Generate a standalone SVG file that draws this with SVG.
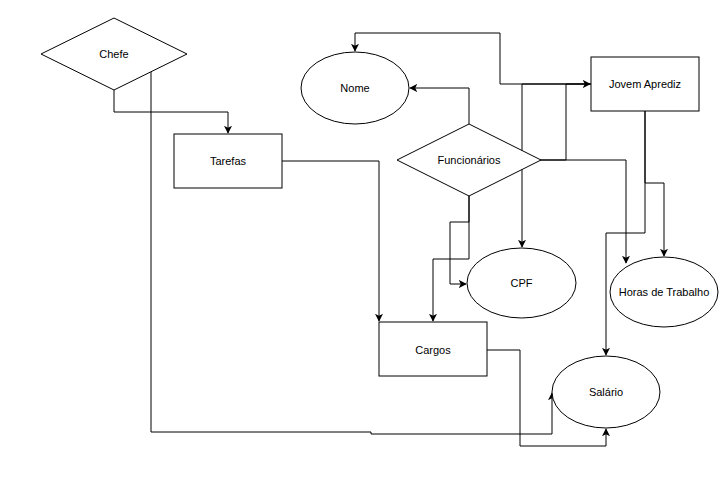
<svg xmlns="http://www.w3.org/2000/svg" width="723" height="491" viewBox="0 0 723 491">
<style>
.s{fill:#fff;stroke:#000;stroke-width:1}
.t{font-family:"Liberation Sans",Arial,sans-serif;font-size:11px;fill:#000;text-anchor:middle;dominant-baseline:central}
.c{fill:none;stroke:#000;stroke-width:1}
</style>
<defs>
<marker id="a" viewBox="0 0 10 10" refX="9" refY="5" markerWidth="8" markerHeight="8" markerUnits="userSpaceOnUse" orient="auto">
<path d="M0,0 L10,5 L0,10 L2.5,5 Z" fill="#000"/>
</marker>
</defs>
<rect width="723" height="491" fill="#fff"/>
<g id="connectors">
<path class="c" d="M114,90 V112 H228 V133" marker-end="url(#a)"/>
<path class="c" d="M282,161 H379 V321" marker-end="url(#a)"/>
<path class="c" d="M151,72 V432 H371 V434 H552 V393" marker-end="url(#a)"/>
<path class="c" d="M487,350 H520 V446 H606 V429" marker-end="url(#a)"/>
<path class="c" d="M469,124 V88 H410" marker-end="url(#a)"/>
<path class="c" d="M591,84 H500 V33 H355 V51" marker-end="url(#a)"/>
<path class="c" d="M540,160 H566 V84 H590" marker-end="url(#a)"/>
<path class="c" d="M591,84 H522 V247" marker-end="url(#a)"/>
<path class="c" d="M540,160 H626 V263" marker-end="url(#a)"/>
<path class="c" d="M645,111 V183 H664 V256" marker-end="url(#a)"/>
<path class="c" d="M645,111 V233 H606 V355" marker-end="url(#a)"/>
<path class="c" d="M469,196 V222 H450 V284 H466" marker-end="url(#a)"/>
<path class="c" d="M469,196 V259 H433 V321" marker-end="url(#a)"/>
</g>
<g id="chefe"><polygon class="s" points="41,54 114,18 187,54 114,90"/><text class="t" x="114" y="54">Chefe</text></g>
<g id="tarefas"><rect class="s" x="174" y="134" width="108" height="54"/><text class="t" x="228" y="161">Tarefas</text></g>
<g id="nome"><ellipse class="s" cx="355" cy="88" rx="54" ry="36"/><text class="t" x="355" y="88">Nome</text></g>
<g id="funcionarios"><polygon class="s" points="397,160 469,124 541,160 469,196"/><text class="t" x="469" y="160">Funcionários</text></g>
<g id="jovem"><rect class="s" x="591" y="57" width="108" height="54"/><text class="t" x="645" y="84">Jovem Aprediz</text></g>
<g id="cpf"><ellipse class="s" cx="521.5" cy="283" rx="54.5" ry="35"/><text class="t" x="521.5" y="283">CPF</text></g>
<g id="horas"><ellipse class="s" cx="664" cy="292" rx="54" ry="35"/><text class="t" x="664" y="292">Horas de Trabalho</text></g>
<g id="cargos"><rect class="s" x="379" y="322" width="108" height="54"/><text class="t" x="433" y="350">Cargos</text></g>
<g id="salario"><ellipse class="s" cx="606" cy="392" rx="54" ry="36"/><text class="t" x="606" y="392">Salário</text></g>
</svg>
